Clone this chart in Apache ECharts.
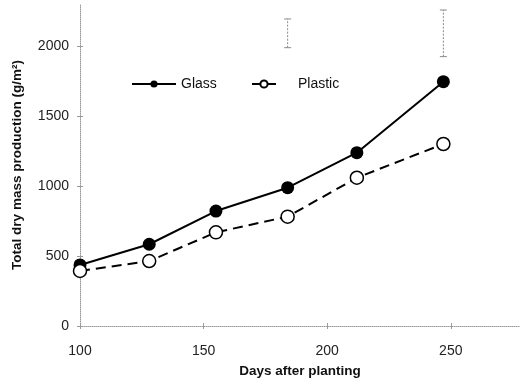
<!DOCTYPE html>
<html>
<head>
<meta charset="utf-8">
<script src="https://cdn.jsdelivr.net/npm/echarts@6/dist/echarts.min.js"></script>
<style>html,body{margin:0;padding:0;background:#fff}#c{width:525px;height:386px}</style>
</head>
<body>
<div id="c"></div>
<script>
const days = [100, 128, 155, 184, 212, 247];
const glass = [436, 584, 821, 988, 1238, 1745];
const plastic = [393, 464, 669, 781, 1059, 1300];
const errDays = [184, 247];
const errLow = [1988, 1924];
const errHigh = [2193, 2257];
const xTickLabels = [100, 150, 200, 250];
const yTickLabels = [0, 500, 1000, 1500, 2000];

const chart = echarts.init(document.getElementById('c'));
const font = 'Liberation Sans';
const axisGray = '#9a9a9a';

const errData = errDays.map((d, i) => [d, errLow[i], errHigh[i]]);

const baseX = {
  type: 'value', min: 100, max: 278, interval: 50,
  splitLine: { show: false }
};
const baseY = {
  type: 'value', min: 0, max: 2300, interval: 500,
  splitLine: { show: false }
};

chart.setOption({
  animation: false,
  backgroundColor: '#fff',
  grid: { left: 80, right: 5, top: 4, bottom: 60 },
  legend: [
    {
      data: ['Glass'], left: 131, top: 77, padding: 0,
      itemWidth: 44, itemHeight: 9,
      textStyle: { fontFamily: font, fontSize: 14, color: '#111' }
    },
    {
      data: ['Plastic'], left: 251, top: 77, padding: 0,
      itemWidth: 24, itemHeight: 9,
      textStyle: { fontFamily: font, fontSize: 14, color: '#111', padding: [0, 0, 0, 17] }
    }
  ],
  xAxis: [
    Object.assign({}, baseX, {
      name: 'Days after planting', nameLocation: 'middle', nameGap: 38,
      nameTextStyle: { fontFamily: font, fontSize: 13.5, fontWeight: 'bold', color: '#111' },
      axisLine: { show: true, lineStyle: { color: axisGray, type: 'dotted', width: 1 } },
      axisTick: { show: true, length: 3, customValues: xTickLabels, lineStyle: { color: axisGray } },
      axisLabel: {
        margin: 18, fontFamily: font, fontSize: 14, color: '#222',
        customValues: xTickLabels, formatter: v => String(v)
      }
    }),
    Object.assign({}, baseX, {
      position: 'bottom',
      axisLine: { show: false },
      axisTick: { show: true, inside: true, length: 3, customValues: xTickLabels, lineStyle: { color: axisGray } },
      axisLabel: { show: false }
    })
  ],
  yAxis: [
    Object.assign({}, baseY, {
      name: 'Total dry mass production (g/m²)', nameLocation: 'middle', nameGap: 56,
      nameTextStyle: { fontFamily: font, fontSize: 13.5, fontWeight: 'bold', color: '#111' },
      axisLine: { show: true, lineStyle: { color: axisGray, type: 'dotted', width: 1 } },
      axisTick: { show: true, length: 3, customValues: yTickLabels, lineStyle: { color: axisGray } },
      axisLabel: {
        margin: 11, fontFamily: font, fontSize: 14, color: '#222',
        customValues: yTickLabels, formatter: v => String(v)
      }
    }),
    Object.assign({}, baseY, {
      position: 'left',
      axisLine: { show: false },
      axisTick: { show: true, inside: true, length: 3, customValues: yTickLabels, lineStyle: { color: axisGray } },
      axisLabel: { show: false }
    })
  ],
  series: [
    {
      name: 'Glass', type: 'line',
      data: days.map((d, i) => [d, glass[i]]),
      symbol: 'circle', symbolSize: 13,
      itemStyle: { color: '#000' },
      lineStyle: { color: '#000', width: 2 },
      z: 3
    },
    {
      // legend appearance for Plastic (solid short line with open circle)
      name: 'Plastic', type: 'line', data: [],
      symbol: 'circle', symbolSize: 13,
      itemStyle: { color: '#fff', borderColor: '#000', borderWidth: 1.5 },
      lineStyle: { color: '#000', width: 2, type: 'solid' }
    },
    {
      name: 'Plastic', type: 'line',
      data: days.map((d, i) => [d, plastic[i]]),
      symbol: 'circle', symbolSize: 13,
      itemStyle: { color: '#fff', borderColor: '#000', borderWidth: 1.5 },
      lineStyle: { color: '#000', width: 2, type: [10, 6] },
      z: 4
    },
    {
      name: 'err', type: 'custom',
      data: errData,
      renderItem: (params, api) => {
        const lo = api.coord([api.value(0), api.value(1)]);
        const hi = api.coord([api.value(0), api.value(2)]);
        const style = { stroke: '#8a8a8a', lineWidth: 1, lineDash: [2, 1.5] };
        const cap = { stroke: '#8a8a8a', lineWidth: 1 };
        return {
          type: 'group',
          children: [
            { type: 'line', shape: { x1: lo[0], y1: lo[1], x2: hi[0], y2: hi[1] }, style },
            { type: 'line', shape: { x1: hi[0] - 3.5, y1: hi[1], x2: hi[0] + 3.5, y2: hi[1] }, style: cap },
            { type: 'line', shape: { x1: lo[0] - 3.5, y1: lo[1], x2: lo[0] + 3.5, y2: lo[1] }, style: cap }
          ]
        };
      },
      z: 2
    }
  ]
});
</script>
</body>
</html>
